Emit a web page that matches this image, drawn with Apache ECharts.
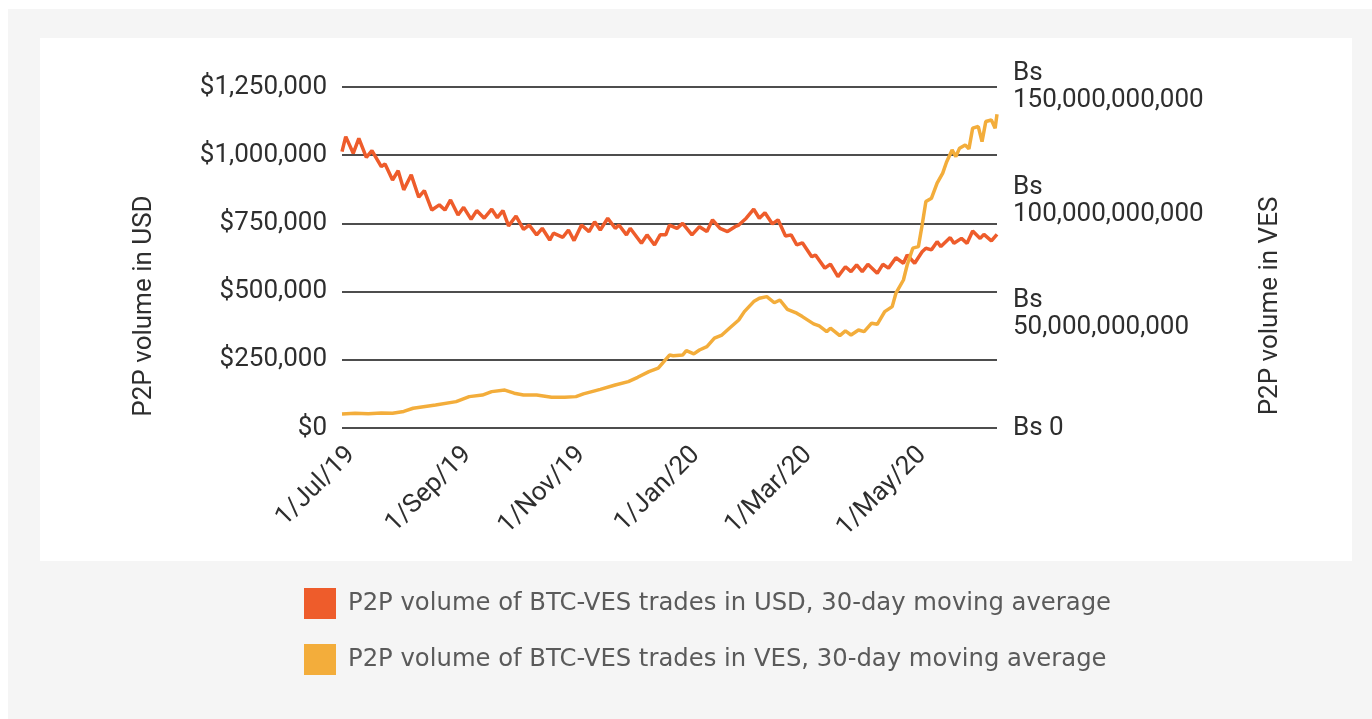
<!DOCTYPE html>
<html>
<head>
<meta charset="utf-8">
<title>P2P volume of BTC-VES trades</title>
<script src="https://cdn.jsdelivr.net/npm/echarts@6/dist/echarts.min.js"></script>
<style>
  html, body { margin: 0; padding: 0; background: #ffffff; }
  #frame { position: absolute; left: 8px; top: 9px; width: 1364px; height: 710px; background: #f5f5f5; }
  #panel { position: absolute; left: 40px; top: 38px; width: 1312px; height: 523px; background: #ffffff; }
  #chart { position: absolute; left: 0; top: 0; width: 1372px; height: 719px; }
</style>
</head>
<body>
<div id="frame"></div>
<div id="panel"></div>
<div id="chart"></div>
<script>
// Series start date; x values are days counted from it
const startDate = '2019-06-26';
const endDate = '2020-06-10';

// Date axis labels
const tickDates = ['2019-07-01', '2019-09-01', '2019-11-01', '2020-01-01', '2020-03-01', '2020-05-01'];
const tickLabels = ['1/Jul/19', '1/Sep/19', '1/Nov/19', '1/Jan/20', '1/Mar/20', '1/May/20'];

// USD volume, 30-day moving average (days since start, USD)
const usdDay = [0, 2, 6, 9, 13, 16, 21, 23, 27, 30, 33, 37, 41, 44, 48, 52, 55, 58, 62, 65,
  69, 72, 76, 80, 83, 86, 89, 93, 97, 100, 104, 107, 111, 113, 118, 121, 124, 128, 132, 135,
  138, 142, 146, 148, 152, 154, 160, 163, 167, 170, 173, 175, 179, 182, 187, 191, 195, 198, 202, 206,
  210, 212, 216, 220, 223, 226, 230, 233, 237, 240, 243, 246, 251, 253, 258, 261, 265, 269, 272, 275,
  278, 281, 286, 289, 292, 296, 300, 302, 306, 310, 312, 315, 318, 320, 325, 327, 331, 334, 337, 341,
  343, 347, 350];
const usdValues = [1013000, 1068000, 1007000, 1062000, 992000, 1017000, 958000, 968000, 909000, 943000,
  873000, 928000, 846000, 870000, 799000, 818000, 799000, 836000, 781000, 809000,
  765000, 797000, 769000, 802000, 771000, 797000, 741000, 777000, 728000, 744000,
  708000, 732000, 689000, 714000, 699000, 726000, 687000, 744000, 720000, 756000,
  726000, 769000, 732000, 744000, 708000, 732000, 677000, 708000, 671000, 708000,
  708000, 744000, 732000, 750000, 708000, 738000, 720000, 763000, 732000, 720000,
  738000, 744000, 769000, 802000, 769000, 789000, 748000, 763000, 704000, 708000,
  671000, 679000, 628000, 634000, 586000, 601000, 555000, 591000, 573000, 598000,
  573000, 600000, 567000, 600000, 586000, 624000, 604000, 634000, 604000, 646000,
  659000, 653000, 683000, 665000, 698000, 677000, 695000, 677000, 722000, 695000,
  710000, 686000, 710000];

// VES volume, 30-day moving average (days since start, billions of Bs)
const vesDay = [0, 7, 14, 21, 27, 33, 38, 50, 61, 68, 75, 80, 87, 92, 97, 104, 112, 119, 125, 129,
  138, 146, 153, 158, 164, 169, 172, 175, 177, 182, 184, 188, 191, 195, 199, 203, 207, 212, 215, 220,
  223, 227, 231, 234, 238, 243, 246, 252, 255, 259, 261, 266, 269, 272, 276, 279, 283, 286, 290, 294,
  296, 300, 302, 305, 308, 310, 312, 315, 318, 321, 323, 326, 328, 330, 333, 335, 337, 340, 342, 344,
  347, 349, 350];
const vesValues = [6.2, 6.5, 6.3, 6.6, 6.5, 7.3, 8.7, 10.1, 11.6, 13.8, 14.5, 16.0, 16.7, 15.3, 14.5, 14.5, 13.5, 13.5, 13.8, 15.0,
  17.0, 18.9, 20.4, 22.3, 24.8, 26.3, 29.2, 32.1, 31.8, 32.1, 34.0, 32.6, 34.3, 35.8, 39.5, 40.9, 43.9, 47.5, 51.2, 55.6,
  57.1, 57.8, 55.1, 56.3, 52.2, 50.5, 49.0, 45.8, 44.9, 42.4, 43.9, 40.6, 42.7, 40.9, 43.1, 42.4, 46.1, 45.6, 51.2, 53.4,
  59.3, 65.1, 71.7, 79.1, 79.8, 89.3, 99.6, 101.1, 107.7, 112.1, 116.9, 122.3, 119.4, 123.1, 124.5, 122.8, 131.9, 132.6, 126.0, 134.8,
  135.5, 131.9, 138.0];

const seriesNames = [
  'P2P volume of BTC-VES trades in USD, 30-day moving average',
  'P2P volume of BTC-VES trades in VES, 30-day moving average'
];
const axisTitles = ['P2P volume in USD', 'P2P volume in VES'];

const DAY = 86400000;
const daysFromStart = d => Math.round((Date.parse(d) - Date.parse(startDate)) / DAY);
const tickDays = tickDates.map(daysFromStart);
const lastDay = daysFromStart(endDate);

const textColor = '#2e2e2e';
const gridColor = '#4d4d4d';
const axisFont = 'Roboto, "Liberation Sans", sans-serif';

const chart = echarts.init(document.getElementById('chart'), null, { renderer: 'canvas' });

chart.setOption({
  backgroundColor: 'transparent',
  animation: false,
  color: ['#ee5c2b', '#f3ad3b'],
  grid: { left: 342, right: 375, top: 87, bottom: 291, containLabel: false },
  legend: {
    orient: 'vertical',
    left: 304,
    top: 588,
    itemWidth: 32,
    itemHeight: 31,
    itemGap: 25,
    icon: 'rect',
    padding: 0,
    data: seriesNames,
    textStyle: {
      fontFamily: '"DejaVu Sans", sans-serif',
      fontSize: 24.3,
      color: '#5a5a5a',
      padding: [2, 0, 0, 7]
    }
  },
  xAxis: {
    type: 'value',
    min: 0,
    max: lastDay,
    axisLine: { show: false },
    axisTick: { show: false },
    splitLine: { show: false },
    axisLabel: {
      customValues: tickDays,
      rotate: 45,
      margin: 23,
      fontSize: 26,
      fontFamily: axisFont,
      color: textColor,
      formatter: v => tickLabels[tickDays.indexOf(v)] || ''
    }
  },
  yAxis: [
    {
      type: 'value',
      min: 0,
      max: 1250000,
      interval: 250000,
      axisLine: { show: false },
      axisTick: { show: false },
      splitLine: { show: true, lineStyle: { color: gridColor, width: 2 } },
      axisLabel: {
        margin: 15,
        fontSize: 26,
        fontFamily: axisFont,
        color: textColor,
        formatter: v => '$' + v.toLocaleString('en-US')
      }
    },
    {
      type: 'value',
      min: 0,
      max: 150,
      interval: 50,
      position: 'right',
      axisLine: { show: false },
      axisTick: { show: false },
      splitLine: { show: false },
      axisLabel: {
        margin: 16,
        fontSize: 26,
        lineHeight: 27,
        fontFamily: axisFont,
        color: textColor,
        formatter: v => v === 0 ? 'Bs 0' : 'Bs\n' + (v * 1e9).toLocaleString('en-US')
      }
    }
  ],
  graphic: [
    {
      type: 'text',
      x: 144, y: 306,
      rotation: Math.PI / 2,
      style: {
        text: axisTitles[0],
        fontSize: 26,
        fontFamily: axisFont,
        fill: textColor,
        align: 'center',
        verticalAlign: 'middle'
      }
    },
    {
      type: 'text',
      x: 1270, y: 306,
      rotation: Math.PI / 2,
      style: {
        text: axisTitles[1],
        fontSize: 26,
        fontFamily: axisFont,
        fill: textColor,
        align: 'center',
        verticalAlign: 'middle'
      }
    }
  ],
  series: [
    {
      name: seriesNames[0],
      type: 'line',
      yAxisIndex: 0,
      showSymbol: false,
      lineStyle: { width: 3.5 },
      data: usdDay.map((d, i) => [d, usdValues[i]])
    },
    {
      name: seriesNames[1],
      type: 'line',
      yAxisIndex: 1,
      showSymbol: false,
      lineStyle: { width: 3.5 },
      data: vesDay.map((d, i) => [d, vesValues[i]])
    }
  ]
});
</script>
</body>
</html>
